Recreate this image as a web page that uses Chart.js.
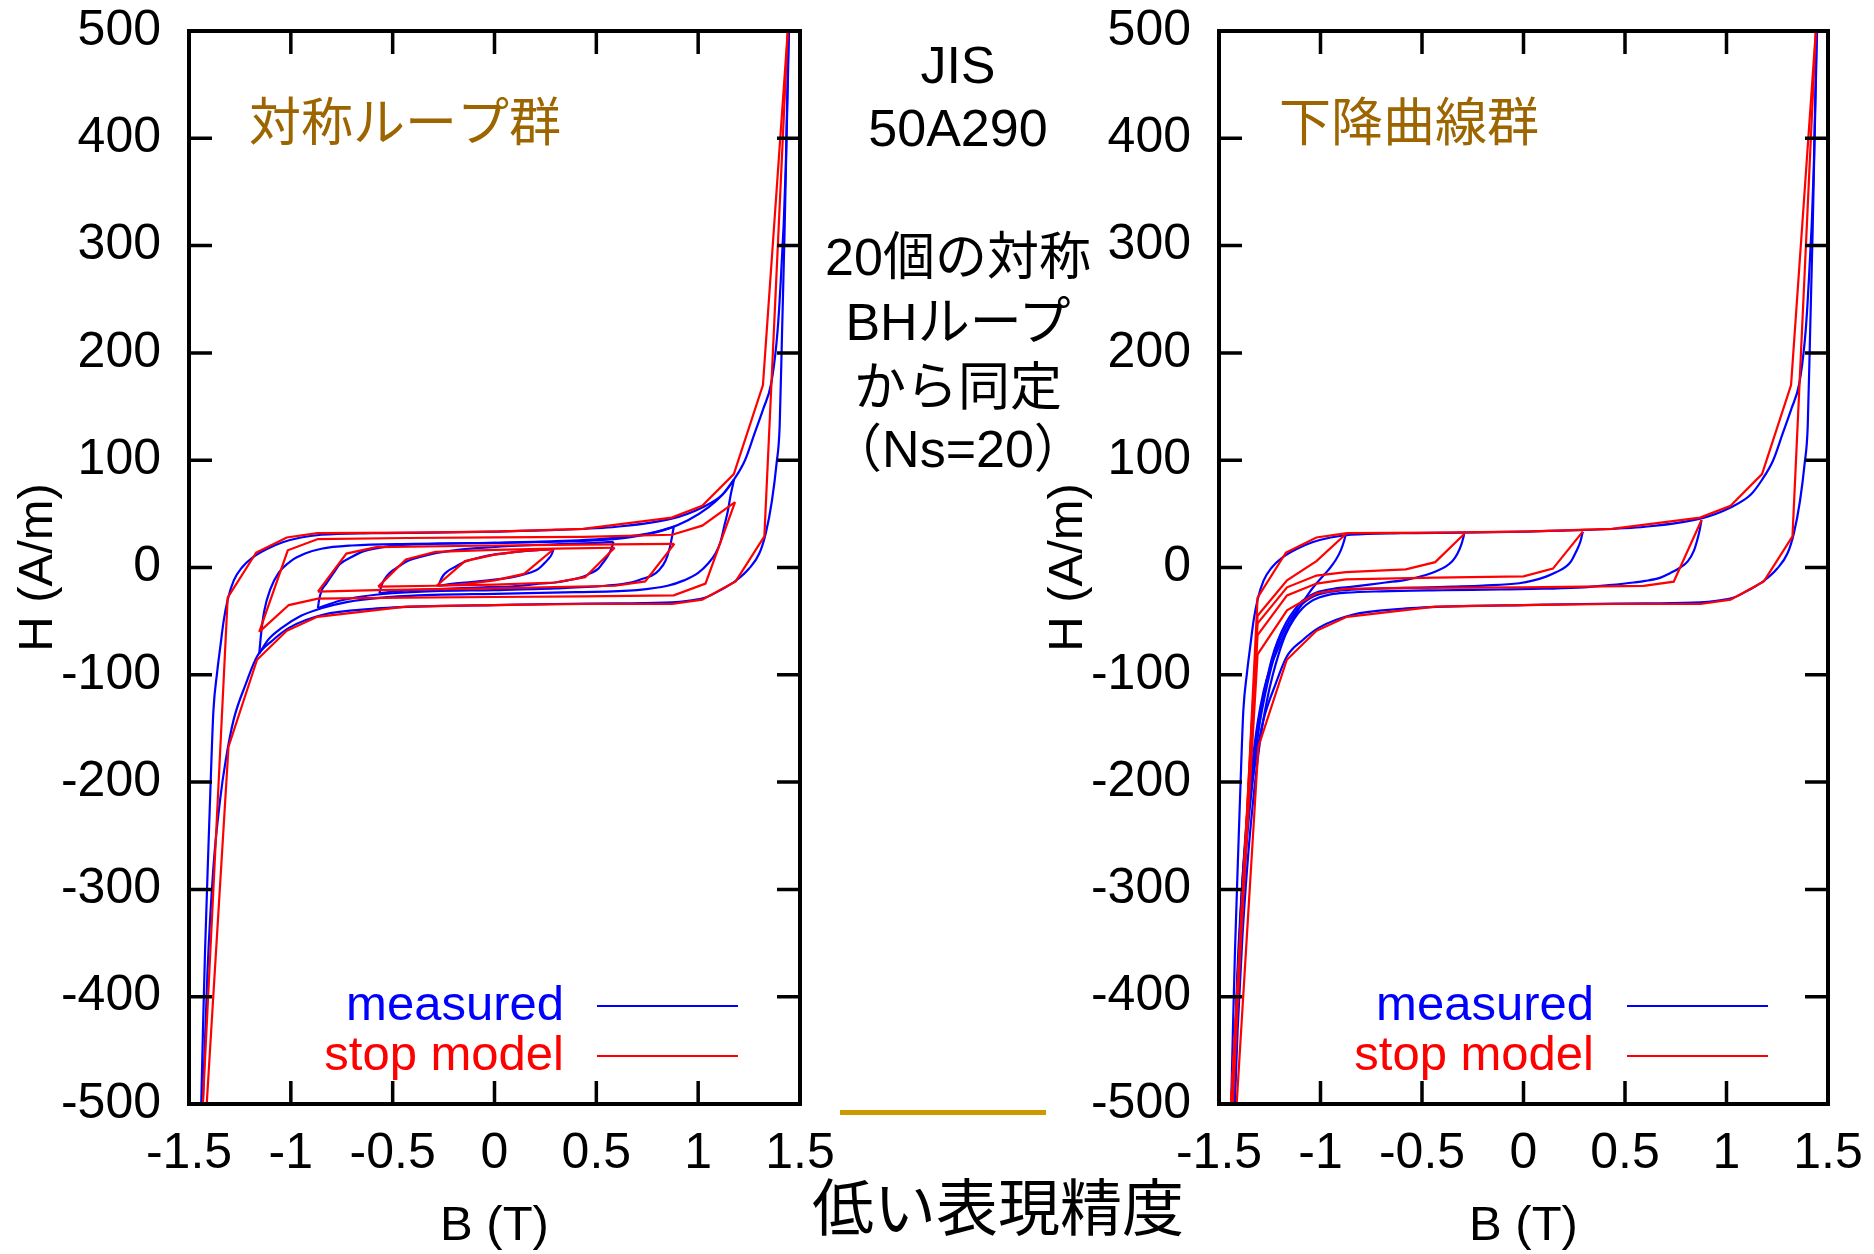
<!DOCTYPE html>
<html>
<head>
<meta charset="utf-8">
<script src="https://cdn.jsdelivr.net/npm/chart.js@4.4.1/dist/chart.umd.min.js"></script>
<style>
html,body{margin:0;padding:0;background:#fff;}
body{width:1874px;height:1254px;position:relative;overflow:hidden;}
canvas{position:absolute;top:0;}
#c1{left:0;}
#c2{left:1030px;}
.mid{position:absolute;left:708px;width:500px;text-align:center;font-family:"Liberation Sans","Noto Sans CJK JP",sans-serif;font-size:52px;line-height:60px;color:#000;white-space:nowrap;z-index:2;}
#bottomTitle{position:absolute;left:698px;width:600px;top:1169px;text-align:center;font-family:"Noto Sans CJK JP",sans-serif;font-size:62px;line-height:70px;color:#000;white-space:nowrap;z-index:2;}
#goldBar{position:absolute;left:840px;top:1110px;width:206px;height:5px;background:#cc9a00;z-index:2;}
</style>
</head>
<body>
<canvas id="c1" width="860" height="1254"></canvas>
<canvas id="c2" width="844" height="1254"></canvas>
<div class="mid" style="top:35px">JIS</div>
<div class="mid" style="top:98px">50A290</div>
<div class="mid" style="top:227px">20個の対称</div>
<div class="mid" style="top:292px">BHループ</div>
<div class="mid" style="top:357px">から同定</div>
<div class="mid" style="top:419px">（Ns=20）</div>
<div id="goldBar"></div>
<div id="bottomTitle">低い表現精度</div>
<script>
// ---------- tick values / labels ----------
const xTickValues = [-1.5, -1, -0.5, 0, 0.5, 1, 1.5];
const xTickLabels = ['-1.5', '-1', '-0.5', '0', '0.5', '1', '1.5'];
const yTickValues = [-500, -400, -300, -200, -100, 0, 100, 200, 300, 400, 500];
const yTickLabels = ['-500', '-400', '-300', '-200', '-100', '0', '100', '200', '300', '400', '500'];

// ---------- major loop (both panels) : [B (T), H (A/m)] ----------
const majorMeasuredAsc = [[-1.44,-500],[-1.43,-420],[-1.421,-356],[-1.405,-263],[-1.39,-180],[-1.38,-133],[-1.362,-98],[-1.347,-75],[-1.33,-50],[-1.31,-30],[-1.28,-12],[-1.24,0],[-1.19,9],[-1.12,17],[-1.04,23.5],[-0.95,28],[-0.85,30.5],[-0.6,32],[-0.3,32.5],[0,33.5],[0.3,35],[0.6,38],[0.87,45.5],[1.02,56],[1.12,68],[1.176,82],[1.23,100],[1.277,125],[1.32,148],[1.358,171],[1.385,210],[1.40,249],[1.43,373],[1.444,500]];
const majorMeasuredDesc = [[1.446,500],[1.434,400],[1.424,311],[1.412,220],[1.40,131],[1.385,97],[1.362,62],[1.332,32],[1.30,13],[1.25,-1],[1.184,-12.5],[1.11,-21],[1.036,-28],[0.95,-31],[0.872,-32.5],[0.6,-33.5],[0.3,-34],[0,-35],[-0.3,-36],[-0.6,-38.5],[-0.843,-44],[-1.007,-56],[-1.09,-68],[-1.166,-83],[-1.22,-108],[-1.281,-142],[-1.32,-180],[-1.347,-216],[-1.38,-279],[-1.41,-380],[-1.432,-500]];
const majorModelAsc = [[-1.432,-500],[-1.31,-28],[-1.17,14],[-1.02,28],[-0.87,32],[-0.435,32.5],[0,33.5],[0.435,36],[0.87,46.5],[1.02,57.5],[1.175,87],[1.318,170],[1.44,500]];
const majorModelDesc = [[1.44,500],[1.325,29],[1.184,-13],[1.02,-30],[0.872,-34],[0.435,-34],[0,-35],[-0.435,-36.5],[-0.87,-46],[-1.02,-59],[-1.166,-86],[-1.306,-167],[-1.413,-500]];

// ---------- left panel: symmetric minor loops ----------
const loopBMeasuredAsc = [[-1.155,-80],[-1.145,-60],[-1.13,-40],[-1.10,-20],[-1.06,-5],[-1.0,6],[-0.93,13],[-0.85,17.5],[-0.7,20.5],[-0.4,22],[0,23],[0.3,24],[0.55,26],[0.72,30],[0.85,36],[0.95,44],[1.05,56],[1.12,68],[1.176,82]];
const loopBMeasuredDesc = [[1.176,82],[1.16,68],[1.145,52],[1.13,40],[1.11,24],[1.085,13],[1.05,4],[1.0,-5],[0.93,-12],[0.85,-17],[0.7,-21],[0.4,-23],[0,-24.5],[-0.3,-25.5],[-0.55,-28],[-0.72,-32],[-0.85,-38],[-0.95,-45],[-1.05,-57],[-1.11,-67],[-1.155,-80]];
const loopBModelAsc = [[-1.155,-60],[-1.015,16],[-0.867,26.5],[-0.435,27.5],[0,28],[0.435,28.5],[0.872,30.5],[1.02,39],[1.181,61]];
const loopBModelDesc = [[1.181,61],[1.036,-15],[0.88,-26],[0.435,-27],[0,-27.5],[-0.435,-28],[-0.867,-29],[-1.01,-35],[-1.155,-60]];

const loopCMeasuredAsc = [[-0.867,-38],[-0.862,-31],[-0.85,-22],[-0.826,-15],[-0.79,-5],[-0.76,3],[-0.7,10],[-0.645,15],[-0.514,20],[-0.3,22],[0,23],[0.3,24.5],[0.55,27],[0.7,30],[0.8,33.5],[0.88,38]];
const loopCMeasuredDesc = [[0.88,38],[0.872,29],[0.86,18],[0.839,6],[0.81,-2],[0.773,-7.5],[0.72,-11],[0.675,-13.8],[0.543,-17],[0.3,-19.5],[0,-21],[-0.3,-22],[-0.5,-24],[-0.65,-27],[-0.76,-31],[-0.867,-38]];
const loopCModelAsc = [[-0.867,-22.5],[-0.727,13],[-0.58,19],[0,20.5],[0.58,21.5],[0.883,22]];
const loopCModelDesc = [[0.883,22],[0.74,-13],[0.592,-17],[0,-19.5],[-0.58,-21],[-0.867,-22.5]];

const loopDMeasuredAsc = [[-0.565,-24],[-0.555,-17],[-0.54,-11],[-0.514,-5],[-0.47,1],[-0.432,5.5],[-0.36,10],[-0.284,13.5],[-0.18,16.5],[-0.05,18.5],[0.144,20.5],[0.35,22],[0.5,23],[0.584,24]];
const loopDMeasuredDesc = [[0.584,24],[0.575,18],[0.56,12],[0.535,5],[0.51,-1],[0.47,-5.5],[0.43,-9],[0.36,-12],[0.297,-14],[0.2,-15.5],[0.13,-17],[-0.05,-18.5],[-0.25,-20],[-0.45,-21.5],[-0.565,-24]];
const loopDModelAsc = [[-0.571,-17.8],[-0.435,7.5],[-0.29,14.5],[0,16.5],[0.29,17.5],[0.59,18.4]];
const loopDModelDesc = [[0.59,18.4],[0.445,-9],[0.297,-14],[0,-16],[-0.29,-17],[-0.571,-17.8]];

const loopEMeasuredAsc = [[-0.276,-17],[-0.265,-12],[-0.25,-7],[-0.234,-4],[-0.19,1],[-0.136,6],[-0.07,9.5],[0.012,12.4],[0.08,14],[0.144,15.3],[0.22,16.3],[0.29,17]];
const loopEMeasuredDesc = [[0.29,17],[0.28,12],[0.264,7.8],[0.24,3],[0.214,-1.5],[0.18,-4.5],[0.149,-6.2],[0.1,-8.5],[0.05,-10.2],[-0.03,-12],[-0.114,-13.5],[-0.2,-15],[-0.276,-17]];
const loopEModelAsc = [[-0.284,-17],[-0.145,6],[0,12],[0.145,15.5],[0.29,17]];
const loopEModelDesc = [[0.29,17],[0.145,-6],[0,-12],[-0.145,-15.5],[-0.284,-17]];

// ---------- right panel: descending curves from the ascending major branch ----------
const desc1Measured = [[-0.875,31],[-0.885,24],[-0.9,16],[-0.925,7],[-0.96,-2],[-1.007,-12],[-1.05,-22],[-1.089,-33],[-1.13,-46],[-1.171,-60],[-1.21,-76],[-1.25,-95],[-1.28,-115],[-1.31,-145],[-1.34,-190],[-1.37,-250],[-1.395,-330],[-1.415,-420],[-1.43,-500]];
const desc2Measured = [[-0.292,31.2],[-0.305,22],[-0.325,13],[-0.35,6],[-0.382,1],[-0.43,-3.5],[-0.481,-7],[-0.58,-11.5],[-0.68,-14],[-0.76,-16],[-0.85,-18],[-0.925,-19.5],[-1.007,-22.5],[-1.05,-26],[-1.089,-31],[-1.13,-40],[-1.171,-52],[-1.21,-68],[-1.24,-85],[-1.265,-105],[-1.29,-128],[-1.32,-165],[-1.35,-215],[-1.375,-270],[-1.4,-350],[-1.418,-430],[-1.428,-500]];
const desc3Measured = [[0.292,33.4],[0.28,24],[0.259,14.7],[0.235,6],[0.209,0.8],[0.16,-4.5],[0.111,-8.5],[0.05,-12],[-0.021,-14.7],[-0.2,-16.8],[-0.349,-17.8],[-0.5,-18.7],[-0.678,-19.5],[-0.875,-21],[-0.95,-22.5],[-1.007,-25],[-1.05,-28.5],[-1.089,-34],[-1.13,-43],[-1.171,-56],[-1.21,-72],[-1.245,-95],[-1.275,-120],[-1.305,-152],[-1.335,-200],[-1.365,-260],[-1.39,-340],[-1.412,-430],[-1.425,-500]];
const desc4Measured = [[0.877,44.3],[0.868,35],[0.855,25],[0.839,15.5],[0.81,6],[0.773,0],[0.72,-5.5],[0.675,-9.4],[0.6,-12.5],[0.543,-14],[0.42,-16.5],[0.297,-18.6],[0.1,-19.8],[-0.114,-20.5],[-0.4,-21.2],[-0.7,-22.2],[-0.875,-23.5],[-0.95,-25],[-1.007,-28],[-1.05,-32],[-1.089,-38],[-1.13,-48],[-1.171,-62],[-1.205,-80],[-1.235,-100],[-1.265,-125],[-1.295,-158],[-1.325,-205],[-1.355,-265],[-1.385,-345],[-1.408,-430],[-1.422,-500]];
const desc1Model = [[-0.875,31.2],[-1.02,6],[-1.165,-12],[-1.31,-45],[-1.44,-500]];
const desc2Model = [[-0.292,31.2],[-0.435,5],[-0.58,-1.8],[-0.875,-4.3],[-1.02,-7.5],[-1.165,-18.5],[-1.31,-52],[-1.44,-500]];
const desc3Model = [[0.292,33.4],[0.145,-1],[0,-8.2],[-0.435,-9.5],[-0.875,-11],[-1.02,-15],[-1.165,-26],[-1.31,-63],[-1.44,-500]];
const desc4Model = [[0.877,44.3],[0.74,-13.2],[0.592,-17.2],[0,-18.5],[-0.58,-19],[-0.875,-20],[-1.02,-24],[-1.165,-40],[-1.31,-81],[-1.44,-500]];

// ---------- styling ----------
const FONT_LATIN = '"Liberation Sans", Arial, sans-serif';
const FONT_CJK = '"Noto Sans CJK JP", "Noto Sans CJK SC", sans-serif';
const BLUE = '#0000ff';
const RED = '#ff0000';
const TICK_FONT_SIZE = 50;

function measured(data) {
  return { label: 'measured', data: data.map(p => ({x: p[0], y: p[1]})), borderColor: BLUE, backgroundColor: BLUE,
    borderWidth: 2.2, pointRadius: 0, showLine: true, fill: false, cubicInterpolationMode: 'monotone', order: 1 };
}
function model(data) {
  return { label: 'stop model', data: data.map(p => ({x: p[0], y: p[1]})), borderColor: RED, backgroundColor: RED,
    borderWidth: 2.2, pointRadius: 0, showLine: true, fill: false, tension: 0, order: 0 };
}

const framePlugin = {
  id: 'frameTicks',
  afterDatasetsDraw(chart, args, opts) {
    const {ctx, chartArea: a} = chart;
    const xs = chart.scales.x, ys = chart.scales.y;
    ctx.save();
    // inward ticks on all four sides
    ctx.strokeStyle = '#000';
    ctx.lineWidth = 3.5;
    const L = 23;
    ctx.beginPath();
    xTickValues.forEach(v => {
      const px = xs.getPixelForValue(v);
      ctx.moveTo(px, a.bottom); ctx.lineTo(px, a.bottom - L);
      ctx.moveTo(px, a.top); ctx.lineTo(px, a.top + L);
    });
    yTickValues.forEach(v => {
      const py = ys.getPixelForValue(v);
      ctx.moveTo(a.left, py); ctx.lineTo(a.left + L, py);
      ctx.moveTo(a.right, py); ctx.lineTo(a.right - L, py);
    });
    ctx.stroke();
    ctx.lineWidth = 4;
    ctx.strokeRect(a.left, a.top, a.right - a.left, a.bottom - a.top);

    // panel label
    ctx.font = `52px ${FONT_CJK}`;
    ctx.fillStyle = '#9c6500';
    ctx.textAlign = 'left';
    ctx.textBaseline = 'middle';
    ctx.fillText(opts.text, a.left + 60, a.top + 90);

    // legend (from dataset labels)
    const seen = [];
    chart.data.datasets.forEach(d => { if (!seen.find(s => s.label === d.label)) seen.push({label: d.label, color: d.borderColor}); });
    seen.sort((p, q) => (p.label === 'measured' ? -1 : 1));
    ctx.font = `49px ${FONT_LATIN}`;
    seen.forEach((item, i) => {
      const y = a.top + 975 + i * 50;
      ctx.fillStyle = item.color;
      ctx.textAlign = 'right';
      ctx.fillText(item.label, a.left + 375, y);
      ctx.strokeStyle = item.color;
      ctx.lineWidth = 2.2;
      ctx.beginPath(); ctx.moveTo(a.left + 408, y); ctx.lineTo(a.left + 549, y); ctx.stroke();
    });
    ctx.restore();
  }
};

function makeChart(id, datasets, label, rightPad) {
  return new Chart(document.getElementById(id), {
    type: 'scatter',
    data: { datasets },
    options: {
      responsive: false, animation: false, devicePixelRatio: 1,
      layout: { padding: { top: 31, right: rightPad, bottom: 0, left: 0 } },
      plugins: { legend: { display: false }, tooltip: { enabled: false }, frameTicks: { text: label } },
      scales: {
        x: {
          type: 'linear', min: -1.5, max: 1.5,
          afterBuildTicks: s => { s.ticks = xTickValues.map(v => ({ value: v })); },
          afterFit: s => { s.height = 150; s.paddingLeft = 0; s.paddingRight = 0; s.paddingTop = 0; s.paddingBottom = 0; },
          grid: { display: false, drawTicks: false }, border: { display: false },
          ticks: { autoSkip: false, maxRotation: 0, padding: 20, color: '#000', font: { family: FONT_LATIN, size: TICK_FONT_SIZE },
                   callback: (v, i) => xTickLabels[i] },
          title: { display: true, text: 'B (T)', color: '#000', font: { family: FONT_LATIN, size: 49, lineHeight: 1.0 }, padding: { top: 0, bottom: 3 } }
        },
        y: {
          type: 'linear', min: -500, max: 500,
          afterBuildTicks: s => { s.ticks = yTickValues.map(v => ({ value: v })); },
          afterFit: s => { s.width = 189; s.paddingTop = 0; s.paddingBottom = 0; s.paddingLeft = 0; s.paddingRight = 0; },
          grid: { display: false, drawTicks: false }, border: { display: false },
          ticks: { autoSkip: false, padding: 28, color: '#000', font: { family: FONT_LATIN, size: TICK_FONT_SIZE },
                   callback: (v, i) => yTickLabels[i] },
          title: { display: true, text: 'H (A/m)', color: '#000', font: { family: FONT_LATIN, size: 49, lineHeight: 1.0 }, padding: { top: 14, bottom: 0 } }
        }
      }
    },
    plugins: [framePlugin]
  });
}

const leftSets = [
  measured(majorMeasuredAsc), measured(majorMeasuredDesc),
  measured(loopBMeasuredAsc), measured(loopBMeasuredDesc),
  measured(loopCMeasuredAsc), measured(loopCMeasuredDesc),
  measured(loopDMeasuredAsc), measured(loopDMeasuredDesc),
  measured(loopEMeasuredAsc), measured(loopEMeasuredDesc),
  model(majorModelAsc), model(majorModelDesc),
  model(loopBModelAsc), model(loopBModelDesc),
  model(loopCModelAsc), model(loopCModelDesc),
  model(loopDModelAsc), model(loopDModelDesc),
  model(loopEModelAsc), model(loopEModelDesc)
];
const rightSets = [
  measured(majorMeasuredAsc), measured(majorMeasuredDesc),
  measured(desc1Measured), measured(desc2Measured), measured(desc3Measured), measured(desc4Measured),
  model(majorModelAsc), model(majorModelDesc),
  model(desc1Model), model(desc2Model), model(desc3Model), model(desc4Model)
];

makeChart('c1', leftSets, '対称ループ群', 60);
makeChart('c2', rightSets, '下降曲線群', 46);
</script>
</body>
</html>
